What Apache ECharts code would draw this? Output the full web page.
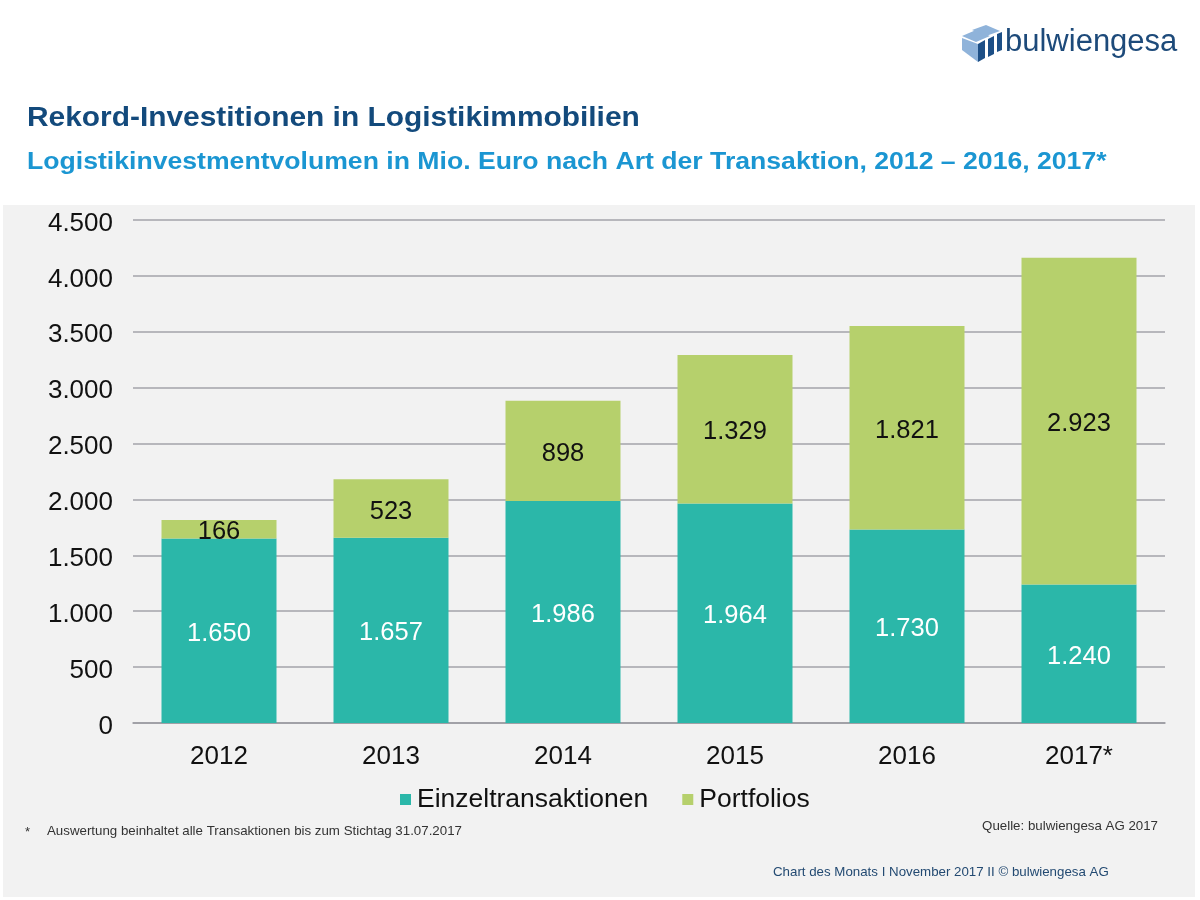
<!DOCTYPE html>
<html>
<head>
<meta charset="utf-8">
<script src="https://cdn.jsdelivr.net/npm/echarts@6/dist/echarts.min.js"></script>
<style>
html,body{margin:0;padding:0;background:#fff;}
#chart{width:1200px;height:900px;}
</style>
</head>
<body>
<div id="chart"></div>
<script>
const categories = ['2012', '2013', '2014', '2015', '2016', '2017*'];
const einzel = [1650, 1657, 1986, 1964, 1730, 1240];
const portfolios = [166, 523, 898, 1329, 1821, 2923];
const seriesNames = ['Einzeltransaktionen', 'Portfolios'];
const yTicks = { min: 0, max: 4500, interval: 500 };

const FONT = '"Liberation Sans", Arial, Helvetica, sans-serif';
function fmt(v) {
  return String(v).replace(/\B(?=(\d{3})+(?!\d))/g, '.');
}

const chart = echarts.init(document.getElementById('chart'), null, { renderer: 'canvas' });
chart.setOption({
  backgroundColor: '#ffffff',
  textStyle: { fontFamily: FONT },
  animation: false,
  graphic: [
    { type: 'rect', z: -10, shape: { x: 3, y: 205, width: 1192, height: 692 }, style: { fill: '#f2f2f2' } },
    // titles
    { type: 'text', z: 10, x: 27, y: 119, scaleX: 1.107, originX: 0,
      style: { text: 'Rekord-Investitionen in Logistikimmobilien', fontFamily: FONT, fontSize: 27, fontWeight: 'bold',
               fill: '#134a7c', verticalAlign: 'middle', align: 'left' } },
    { type: 'text', z: 10, x: 27, y: 163, scaleX: 1.157, originX: 0,
      style: { text: 'Logistikinvestmentvolumen in Mio. Euro nach Art der Transaktion, 2012 \u2013 2016, 2017*', fontFamily: FONT, fontSize: 23, fontWeight: 'bold',
               fill: '#1b96d2', verticalAlign: 'middle', align: 'left' } },
    // logo icon
    { type: 'polygon', z: 10, shape: { points: [[962,36],[976,30],[990,36],[976,42]] }, style: { fill: '#8fb3da' } },
    { type: 'polygon', z: 10, shape: { points: [[972,30],[986,25],[1000,31],[986,36]] }, style: { fill: '#8fb3da' } },
    { type: 'polygon', z: 10, shape: { points: [[978,44],[985,40],[985,58],[978,62]] }, style: { fill: '#1d4f86' } },
    { type: 'polygon', z: 10, shape: { points: [[988,39],[994,36],[994,54],[988,57]] }, style: { fill: '#1d4f86' } },
    { type: 'polygon', z: 10, shape: { points: [[997,34],[1002,32],[1002,50],[997,52]] }, style: { fill: '#1d4f86' } },
    { type: 'polygon', z: 10, shape: { points: [[962,38],[978,44],[978,62],[962,50]] }, style: { fill: '#8fb3da' } },
    { type: 'text', z: 10, x: 1005, y: 42,
      style: { text: 'bulwiengesa', fontFamily: FONT, fontSize: 31, fill: '#1d4a7a', verticalAlign: 'middle', align: 'left' } },
    // footnotes
    { type: 'text', x: 25, y: 832, style: { text: '*', fontFamily: FONT, fontSize: 13, fill: '#333', verticalAlign: 'middle' } },
    { type: 'text', x: 47, y: 831, style: { text: 'Auswertung beinhaltet alle Transaktionen bis zum Stichtag 31.07.2017', fontFamily: FONT, fontSize: 13.3, fill: '#333', verticalAlign: 'middle' } },
    { type: 'text', x: 1158, y: 826, style: { text: 'Quelle: bulwiengesa AG 2017', fontFamily: FONT, fontSize: 13.3, fill: '#333', verticalAlign: 'middle', align: 'right' } },
    { type: 'text', x: 773, y: 872, style: { text: 'Chart des Monats I November 2017 II \u00a9 bulwiengesa AG', fontFamily: FONT, fontSize: 13.3, fill: '#234a72', verticalAlign: 'middle' } }
  ],
  legend: {
    data: seriesNames,
    left: 395, top: 781,
    itemWidth: 11, itemHeight: 11, itemGap: 34,
    icon: 'rect',
    textStyle: { fontFamily: FONT, fontSize: 26.5, color: '#111', padding: [0, 0, 0, 1] }
  },
  grid: { left: 133, right: 35, top: 220, bottom: 177, containLabel: false },
  xAxis: {
    type: 'category',
    data: categories,
    axisLine: { lineStyle: { color: '#9a9aa0', width: 1.5 } },
    axisTick: { show: false },
    axisLabel: { fontFamily: FONT, fontSize: 26, color: '#111', margin: 21 }
  },
  yAxis: {
    type: 'value',
    min: yTicks.min, max: yTicks.max, interval: yTicks.interval,
    axisLine: { show: false },
    axisTick: { show: false },
    splitLine: { lineStyle: { color: '#a3a3aa', width: 1.5 } },
    axisLabel: {
      fontFamily: FONT, fontSize: 26, color: '#111', margin: 20,
      formatter: v => '{n|' + fmt(v) + '}',
      rich: { n: { fontFamily: FONT, fontSize: 26, color: '#111', padding: [7, 0, 0, 0] } }
    }
  },
  series: [
    {
      name: seriesNames[0], type: 'bar', stack: 'total', data: einzel,
      barWidth: 115,
      itemStyle: { color: '#2bb7a9' },
      label: { show: true, position: 'inside', offset: [0, 3], fontFamily: FONT, fontSize: 25.5, color: '#ffffff', formatter: p => fmt(p.value) }
    },
    {
      name: seriesNames[1], type: 'bar', stack: 'total', data: portfolios,
      barWidth: 115,
      itemStyle: { color: '#b6d06c' },
      label: { show: true, position: 'inside', offset: [0, 3], fontFamily: FONT, fontSize: 25.5, color: '#111', formatter: p => fmt(p.value) }
    }
  ]
});
</script>
</body>
</html>
